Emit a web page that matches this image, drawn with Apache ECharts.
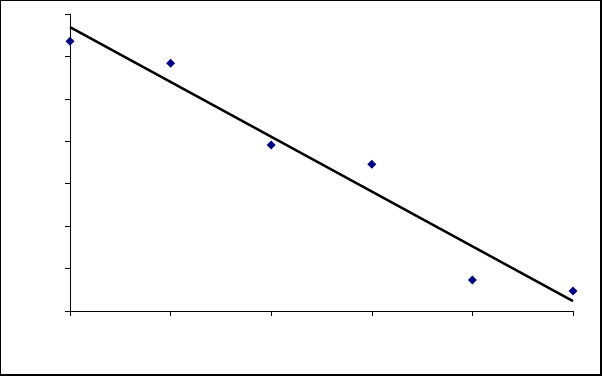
<!DOCTYPE html>
<html>
<head>
<meta charset="utf-8">
<script src="https://cdn.jsdelivr.net/npm/echarts@6/dist/echarts.min.js"></script>
<style>
html,body{margin:0;padding:0;background:#fff;}
#wrap{position:relative;width:602px;height:376px;}
#chart{position:absolute;left:0;top:0;width:602px;height:376px;}
#frame{position:absolute;left:0;top:0;width:602px;height:376px;box-sizing:border-box;border-top:1px solid #000;border-left:1px solid #000;border-right:2px solid #000;border-bottom:2px solid #000;pointer-events:none;}
</style>
</head>
<body>
<div id="wrap"><div id="chart"></div><div id="frame"></div></div>
<script>
const xValues = [0, 1, 2, 3, 4, 5];
const yValues = [6.36, 5.84, 3.91, 3.46, 0.73, 0.47];

// linear least-squares trend line
const n = xValues.length;
const mx = xValues.reduce((a, b) => a + b, 0) / n;
const my = yValues.reduce((a, b) => a + b, 0) / n;
let sxy = 0, sxx = 0;
for (let i = 0; i < n; i++) { sxy += (xValues[i] - mx) * (yValues[i] - my); sxx += (xValues[i] - mx) ** 2; }
const slope = sxy / sxx, intercept = my - slope * mx;
const trend = [[0, intercept], [5, intercept + slope * 5]];

const chart = echarts.init(document.getElementById('chart'));
chart.setOption({
  animation: false,
  grid: { left: 70, top: 14, right: 29, bottom: 65, containLabel: false },
  xAxis: {
    type: 'value', min: 0, max: 5, interval: 1,
    axisLine: { lineStyle: { color: '#000', width: 1 } },
    axisTick: { show: true, length: 5, lineStyle: { color: '#000' } },
    axisLabel: { show: false },
    splitLine: { show: false }
  },
  yAxis: {
    type: 'value', min: 0, max: 7, interval: 1,
    axisLine: { show: true, lineStyle: { color: '#000', width: 1 } },
    axisTick: { show: true, length: 5, lineStyle: { color: '#000' } },
    axisLabel: { show: false },
    splitLine: { show: false }
  },
  series: [
    {
      type: 'line', data: trend, symbol: 'none', z: 2,
      lineStyle: { color: '#000', width: 2.5 }
    },
    {
      type: 'scatter', data: xValues.map((x, i) => [x, yValues[i]]),
      symbol: 'diamond', symbolSize: [9, 9], z: 3,
      itemStyle: { color: '#000080', opacity: 1 }
    }
  ]
});
</script>
</body>
</html>
